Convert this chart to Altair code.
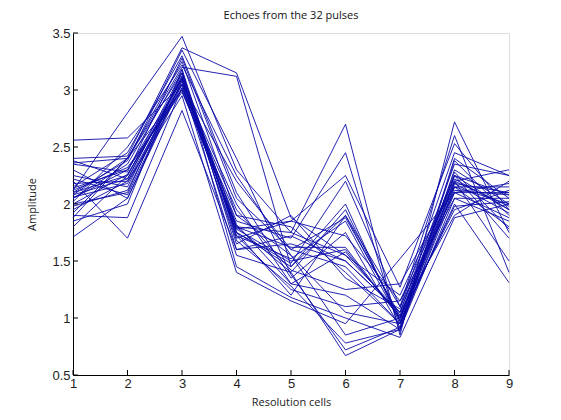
import altair as alt
import pandas as pd

# Resolution cell index (x axis)
cells = [1, 2, 3, 4, 5, 6, 7, 8, 9]

# Echo amplitude of each of the 32 pulses across the 9 resolution cells
pulses = [
    [2.56, 2.58, 3.05, 2.20, 1.60, 1.45, 0.95, 2.15, 2.00],
    [2.40, 2.42, 3.37, 3.15, 1.88, 1.55, 1.05, 2.25, 1.95],
    [2.36, 2.40, 3.20, 3.12, 1.45, 1.90, 1.10, 2.10, 2.10],
    [2.12, 2.80, 3.47, 2.30, 1.75, 2.70, 0.85, 2.72, 1.75],
    [2.08, 2.22, 3.10, 1.75, 1.20, 1.90, 1.00, 2.20, 2.30],
    [2.05, 2.30, 3.00, 1.80, 1.40, 0.67, 0.90, 2.40, 2.05],
    [2.00, 2.10, 3.15, 1.70, 1.85, 2.25, 1.27, 2.53, 1.95],
    [1.95, 2.20, 2.95, 1.40, 1.15, 0.95, 1.52, 2.10, 2.18],
    [1.88, 2.40, 3.25, 1.90, 1.55, 1.05, 0.95, 2.00, 1.31],
    [1.71, 2.05, 3.05, 2.00, 1.30, 1.20, 0.90, 2.15, 1.80],
    [2.20, 1.70, 2.82, 1.60, 1.65, 1.50, 1.05, 1.90, 2.20],
    [2.10, 2.25, 3.10, 1.75, 1.45, 2.00, 0.95, 2.25, 1.70],
    [2.30, 2.05, 3.08, 1.78, 1.50, 1.60, 1.00, 2.18, 2.10],
    [2.15, 2.45, 3.30, 2.10, 1.35, 1.75, 0.92, 2.30, 2.00],
    [2.05, 2.35, 3.18, 1.72, 1.25, 1.10, 1.15, 2.05, 1.85],
    [1.90, 1.88, 3.02, 1.85, 1.70, 2.45, 0.88, 2.38, 1.90],
    [2.25, 2.15, 3.12, 1.65, 1.90, 1.35, 1.08, 2.45, 2.25],
    [2.02, 2.50, 3.22, 2.25, 1.55, 0.85, 1.00, 1.95, 2.12],
    [2.18, 2.20, 3.05, 1.55, 1.40, 1.95, 0.98, 2.20, 1.50],
    [1.80, 2.25, 3.15, 1.45, 1.18, 1.00, 0.83, 1.88, 2.00],
    [2.08, 2.40, 3.00, 1.80, 1.75, 1.55, 1.20, 2.22, 1.95],
    [2.35, 2.28, 3.28, 2.05, 1.60, 1.88, 1.02, 2.12, 2.08],
    [1.98, 2.12, 3.10, 1.75, 1.48, 2.20, 1.10, 2.60, 1.40],
    [2.12, 2.32, 2.98, 1.90, 1.80, 1.40, 0.95, 2.18, 1.92],
    [2.22, 2.08, 3.08, 1.68, 1.28, 0.78, 0.90, 2.05, 2.05],
    [1.92, 2.40, 3.15, 1.80, 1.62, 1.62, 1.00, 2.28, 1.78],
    [2.06, 2.18, 3.02, 1.95, 1.42, 1.25, 1.30, 2.15, 2.15],
    [2.38, 2.22, 3.12, 1.72, 1.52, 1.85, 0.97, 1.98, 2.02],
    [1.85, 2.00, 3.18, 1.60, 1.72, 1.50, 1.05, 2.35, 2.25],
    [2.10, 2.38, 3.35, 2.40, 1.38, 0.72, 0.92, 2.10, 1.88],
    [2.00, 2.26, 3.05, 1.78, 1.85, 1.72, 1.15, 2.20, 1.98],
    [2.14, 2.30, 3.10, 1.82, 1.30, 1.58, 1.02, 2.25, 2.08],
]

x_ticks = [1, 2, 3, 4, 5, 6, 7, 8, 9]
y_ticks = [0.5, 1.0, 1.5, 2.0, 2.5, 3.0, 3.5]

rows = []
for p, amps in enumerate(pulses):
    for c, a in zip(cells, amps):
        rows.append({"pulse": p + 1, "cell": c, "amp": a})
df = pd.DataFrame(rows)

W, H = 436, 342
LABEL_FONT = "Liberation Sans"
TEXT_FONT = "Open Sans"

x_scale = alt.Scale(domain=[1, 9], nice=False, zero=False)
y_scale = alt.Scale(domain=[0.5, 3.5], nice=False, zero=False)

axis_common = dict(
    format="~g",
    tickSize=0,
    grid=False,
    domainColor="black",
    domainWidth=1,
    labelFont=LABEL_FONT,
    labelFontSize=13,
    labelColor="#222",
    labelFlush=False,
    labelOverlap=False,
    labelBound=False,
    titleFont=TEXT_FONT,
    titleFontSize=11,
    titleFontWeight="normal",
    titleColor="#222",
)

lines = alt.Chart(df).mark_line(color="#0a0aa8", strokeWidth=0.9).encode(
    x=alt.X(
        "cell:Q",
        scale=x_scale,
        axis=alt.Axis(
            values=x_ticks,
            labelPadding=2,
            title="Resolution cells",
            titlePadding=6,
            **axis_common,
        ),
    ),
    y=alt.Y(
        "amp:Q",
        scale=y_scale,
        axis=alt.Axis(
            values=y_ticks,
            labelPadding=3,
            title="Amplitude",
            titlePadding=14,
            **axis_common,
        ),
    ),
    detail="pulse:N",
)

# Inward-pointing tick marks along the bottom and left axes
xt = alt.Chart(pd.DataFrame({"t": x_ticks})).mark_rule(color="black", strokeWidth=1).encode(
    x=alt.X("t:Q", scale=x_scale),
    y=alt.value(H),
    y2=alt.value(H - 5),
)
yt = alt.Chart(pd.DataFrame({"t": y_ticks})).mark_rule(color="black", strokeWidth=1).encode(
    y=alt.Y("t:Q", scale=y_scale),
    x=alt.value(0),
    x2=alt.value(5),
)

chart = (
    alt.layer(lines, xt, yt)
    .properties(
        width=W,
        height=H,
        title=alt.TitleParams(
            "Echoes from the 32 pulses",
            font=TEXT_FONT,
            fontSize=11,
            fontWeight="normal",
            color="#111",
            offset=6,
        ),
        autosize=alt.AutoSizeParams(type="none"),
        padding={"left": 73, "top": 33, "right": 52, "bottom": 45},
    )
    .configure_view(stroke=None)
    .configure(background="white")
)

chart.save("out.html", embed_options={"renderer": "svg", "actions": False})
